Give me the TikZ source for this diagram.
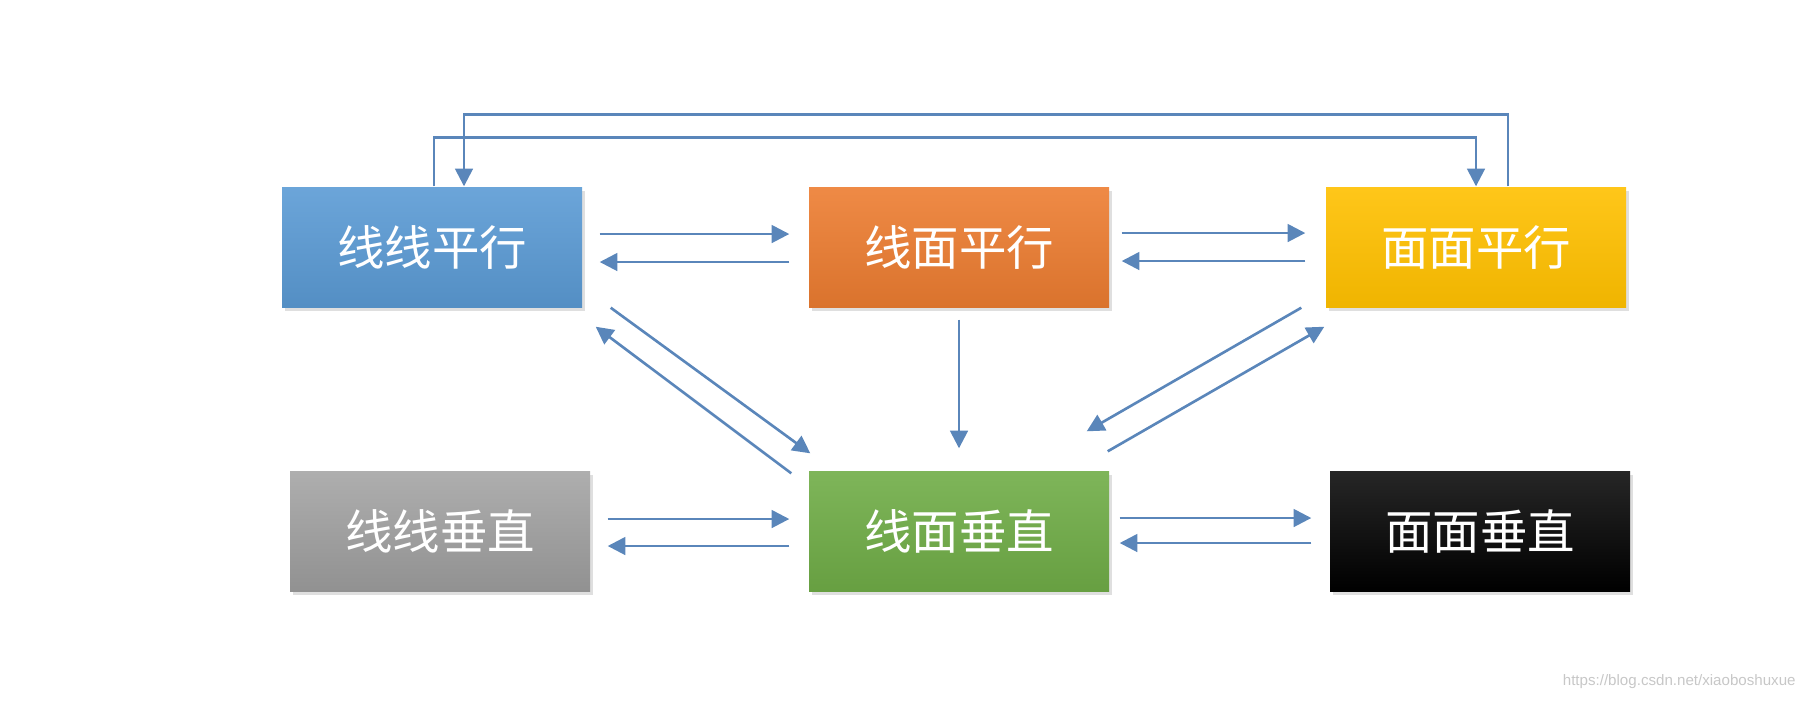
\documentclass[tikz,border=0pt]{standalone}
\usepackage{fontspec}
\newfontfamily\cjk{Noto Sans CJK SC}
\newfontfamily\wmark{Liberation Sans}
\usetikzlibrary{arrows.meta,shadows}
\definecolor{cblue}{HTML}{5B9BD5}
\definecolor{corange}{HTML}{ED7D31}
\definecolor{cgold}{HTML}{FFC000}
\definecolor{cgrey}{HTML}{A5A5A5}
\definecolor{cgreen}{HTML}{70AD47}
\definecolor{clink}{HTML}{5A86BA}

\begin{document}
\begin{tikzpicture}[
  blk/.style={minimum width=3cm,minimum height=1.2cm,inner sep=0pt,
    font=\cjk\fontsize{13.5}{16}\selectfont,text=white,
    drop shadow={opacity=0.25,shadow xshift=0.03cm,shadow yshift=-0.04cm}},
  link/.style={draw=clink,line width=0.75pt,-{Triangle[length=5pt,width=5pt]}}]
  \useasboundingbox (0,0) rectangle (18.12,-7);
  \node[blk,top color=cblue!90!white,bottom color=cblue!92!black] (ll) at (4.32,-2.47) {线线平行};
  \node[blk,top color=corange!90!white,bottom color=corange!92!black] (lm) at (9.59,-2.47) {线面平行};
  \node[blk,top color=cgold!90!white,bottom color=cgold!94!black] (mm) at (14.76,-2.47) {面面平行};
  \node[blk,top color=cgrey!90!white,bottom color=cgrey!88!black] (llv) at (4.40,-5.31) {线线垂直};
  \node[blk,top color=cgreen!90!white,bottom color=cgreen!92!black] (lmv) at (9.59,-5.31) {线面垂直};
  \node[blk,top color=black!85,bottom color=black] (mmv) at (14.80,-5.31) {面面垂直};
  % top row
  \draw[link] ([shift={(0.17,0.13)}]ll.east) -- ([shift={(-0.19,0.13)}]lm.west);
  \draw[link] ([shift={(-0.19,-0.15)}]lm.west) -- ([shift={(0.17,-0.15)}]ll.east);
  \draw[link] ([shift={(0.12,0.14)}]lm.east) -- ([shift={(-0.20,0.14)}]mm.west);
  \draw[link] ([shift={(-0.20,-0.14)}]mm.west) -- ([shift={(0.12,-0.14)}]lm.east);
  % bottom row
  \draw[link] ([shift={(0.17,0.12)}]llv.east) -- ([shift={(-0.19,0.12)}]lmv.west);
  \draw[link] ([shift={(-0.19,-0.15)}]lmv.west) -- ([shift={(0.17,-0.15)}]llv.east);
  \draw[link] ([shift={(0.10,0.13)}]lmv.east) -- ([shift={(-0.18,0.13)}]mmv.west);
  \draw[link] ([shift={(-0.18,-0.12)}]mmv.west) -- ([shift={(0.10,-0.12)}]lmv.east);
  % towards the middle
  \draw[link] ([yshift=-0.12cm]lm.south) -- ([yshift=0.22cm]lmv.north);
  \draw[link] ([shift={(0.28,0)}]ll.south east) -- ([shift={(0.02,0.17)}]lmv.north west);
  \draw[link] ([shift={(-0.17,-0.03)}]lmv.north west) -- ([shift={(0.13,-0.19)}]ll.south east);
  \draw[link] ([shift={(-0.24,0)}]mm.south west) -- ([shift={(-0.23,0.39)}]lmv.north east);
  \draw[link] ([shift={(-0.02,0.19)}]lmv.north east) -- ([shift={(-0.01,-0.19)}]mm.south west);
  % over the top
  \draw[link] ([xshift=0.02cm]ll.north) -- ++(0,0.49) -| (mm.north);
  \draw[link] ([xshift=0.32cm]mm.north) -- ++(0,0.72) -| ([xshift=0.32cm]ll.north);
  \node[anchor=east,font=\wmark\fontsize{4.3}{5}\selectfont,text=black!22] (url) at (18.08,-6.82) {https://blog.csdn.net/xiaoboshuxue};
\end{tikzpicture}
\end{document}
